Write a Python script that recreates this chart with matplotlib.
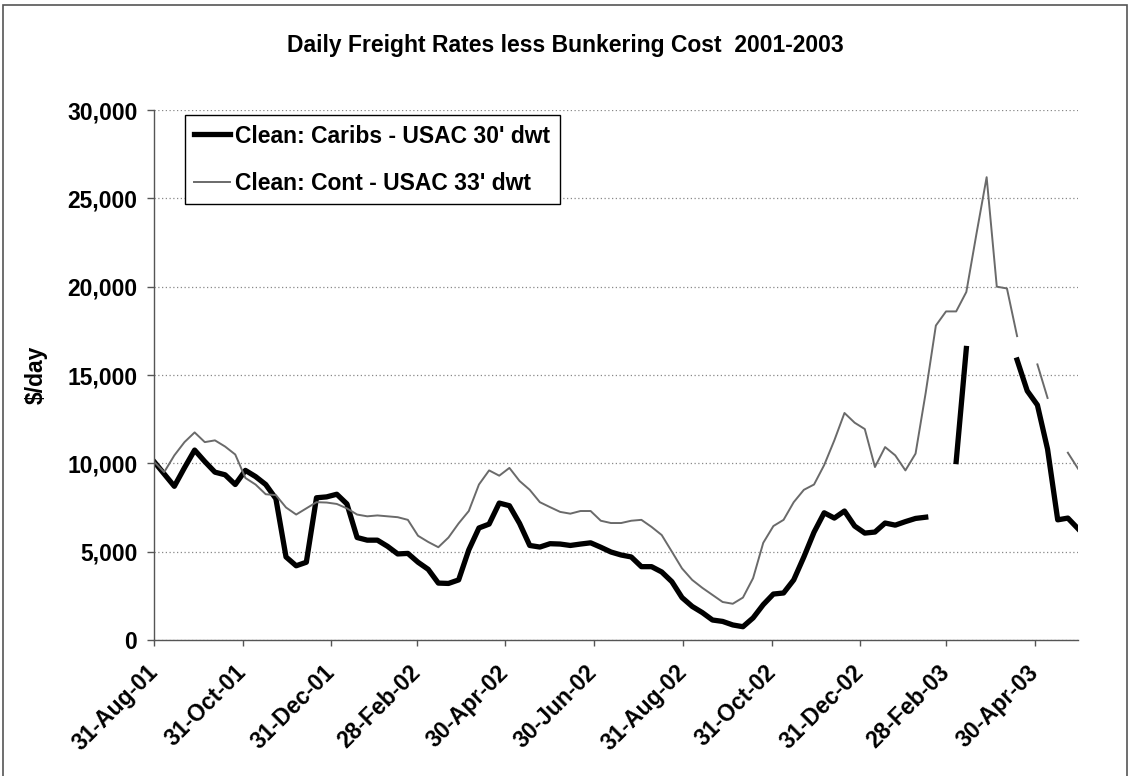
import matplotlib
matplotlib.use("Agg")
import matplotlib.pyplot as plt
import matplotlib.ticker as mticker
from matplotlib.patches import Rectangle
import numpy as np
import pandas as pd

plt.rcParams['font.family'] = ['Liberation Sans', 'DejaVu Sans']
plt.rcParams['font.weight'] = 'bold'

nan = np.nan

# weekly observations, Friday 31 Aug 2001 onwards
weeks = pd.date_range('2001-08-31', periods=92, freq='7D')

caribs = [10100, 9400, 8700, 9750, 10750, 10100, 9500, 9350, 8800, 9600,
          9250, 8800, 8000, 4700, 4200, 4400, 8050, 8100, 8250, 7700,
          5800, 5650, 5650, 5300, 4870, 4900, 4400, 4000, 3220, 3200,
          3400, 5100, 6340, 6560, 7750, 7600, 6600, 5350, 5260, 5450,
          5430, 5350, 5430, 5500, 5250, 4980, 4810, 4700, 4150, 4150,
          3850, 3300, 2400, 1900, 1550, 1130, 1050, 850, 750, 1250,
          2000, 2600, 2660, 3400, 4700, 6100, 7200, 6900, 7300, 6450,
          6050, 6110, 6620, 6500, 6700, 6880, 6950, nan, nan, 10100,
          16500, nan, nan, nan, nan, 15850, 14100, 13300, 10800, 6800,
          6900, 6300]

cont = [10100, 9500, 10450, 11200, 11750, 11200, 11300, 10950, 10500, 9170,
        8800, 8250, 8200, 7500, 7100, 7450, 7800, 7780, 7700, 7450,
        7100, 7000, 7050, 7000, 6950, 6800, 5900, 5550, 5250, 5800,
        6600, 7300, 8800, 9600, 9300, 9740, 9000, 8500, 7800, 7520,
        7250, 7150, 7300, 7300, 6750, 6620, 6620, 6750, 6800, 6400,
        5940, 5000, 4050, 3400, 2950, 2550, 2150, 2050, 2400, 3500,
        5500, 6450, 6800, 7800, 8500, 8800, 9900, 11300, 12850, 12300,
        11940, 9790, 10920, 10450, 9600, 10550, 14000, 17800, 18600, 18600,
        19700, 23000, 26200, 20000, 19900, 17200, nan, 15600, 13700, nan,
        10600, 9700]

tick_labels = ['31-Aug-01', '31-Oct-01', '31-Dec-01', '28-Feb-02', '30-Apr-02',
               '30-Jun-02', '31-Aug-02', '31-Oct-02', '31-Dec-02', '28-Feb-03',
               '30-Apr-03']
tick_dates = pd.to_datetime(tick_labels, format='%d-%b-%y')

FS = 16.5

fig = plt.figure(figsize=(11.3, 7.76), dpi=100)
ax = fig.add_axes([0.1363, 0.1753, 0.8177, 0.6829])

ax.plot(weeks, caribs, color='black', lw=3.8, solid_joinstyle='round',
        label="Clean: Caribs - USAC 30' dwt")
ax.plot(weeks, cont, color='#6a6a6a', lw=1.4,
        label="Clean: Cont - USAC 33' dwt")

ax.set_xlim(weeks[0], weeks[-1])
ax.set_ylim(0, 30000)
ax.set_yticks(np.arange(0, 30001, 5000))
ax.yaxis.set_major_formatter(mticker.StrMethodFormatter('{x:,.0f}'))
ax.set_xticks(tick_dates)
ax.set_xticklabels(tick_labels, rotation=45, ha='right', va='center',
                   rotation_mode='anchor')

ax.grid(axis='y', color='#888888', lw=0.9, linestyle=(0, (1, 2)))
ax.set_axisbelow(True)
for side in ('top', 'right'):
    ax.spines[side].set_visible(False)
for side in ('left', 'bottom'):
    ax.spines[side].set_color('#555555')
    ax.spines[side].set_linewidth(1.0)

ax.tick_params(axis='y', length=5, width=1, color='#555555', pad=7,
               labelsize=FS)
ax.tick_params(axis='x', length=4, width=1, color='#555555', pad=17,
               labelsize=FS)

fig.text(0.032, 0.517, '$/day', rotation=90, ha='center', va='center',
         fontsize=FS, fontweight='bold')
fig.text(0.5, 0.942, 'Daily Freight Rates less Bunkering Cost  2001-2003',
         ha='center', va='center', fontsize=FS, fontweight='bold')

leg = ax.legend(loc='upper left', bbox_to_anchor=(0.0335, 0.99),
                fontsize=FS, frameon=True, fancybox=False, framealpha=1,
                edgecolor='black', handlelength=1.55, handletextpad=0.25,
                borderpad=0.4, labelspacing=1.05, borderaxespad=0)
leg.get_frame().set_linewidth(1.0)

# chart area border
fig.patches.append(Rectangle((0.003, -0.01), 0.994, 1.004, transform=fig.transFigure,
                             fill=False, edgecolor='#555555', lw=1.2))

fig.savefig('out.png', dpi=100)
